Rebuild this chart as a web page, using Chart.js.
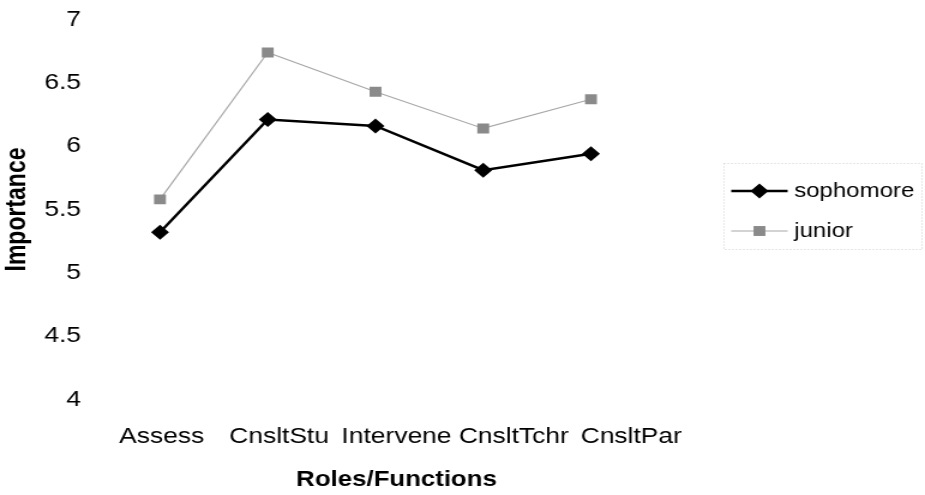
<!DOCTYPE html>
<html>
<head>
<meta charset="utf-8">
<script src="https://cdn.jsdelivr.net/npm/chart.js@4/dist/chart.umd.min.js"></script>
<style>
  html, body { margin: 0; padding: 0; background: #fff; overflow: hidden; }
  #wrap { position: absolute; left: 0; top: 0; width: 771px; height: 495px;
          transform: scaleX(1.19974); transform-origin: 0 0; }
</style>
</head>
<body>
<div id="wrap"><canvas id="c" width="771" height="495" style="width:771px;height:495px"></canvas></div>
<script>
const categories = ['Assess', 'CnsltStu', 'Intervene', 'CnsltTchr', 'CnsltPar'];
const sophomore = [5.32, 6.21, 6.16, 5.81, 5.94];
const junior = [5.58, 6.74, 6.43, 6.14, 6.37];
const yTicks = [4, 4.5, 5, 5.5, 6, 6.5, 7];
const seriesNames = ['sophomore', 'junior'];

const FONT = 'Liberation Sans, Arial, sans-serif';
const toPoints = (arr) => arr.map((v, i) => ({ x: i, y: v }));

const legendPlugin = {
  id: 'customLegend',
  afterDraw(chart) {
    const ctx = chart.ctx;
    ctx.save();
    ctx.strokeStyle = '#cfcfcf';
    ctx.lineWidth = 1;
    ctx.setLineDash([1, 2]);
    ctx.strokeRect(603.5, 163.5, 165, 86);
    ctx.setLineDash([]);
    const rows = [191, 231];
    chart.data.datasets.forEach((ds, i) => {
      const y = rows[i];
      ctx.strokeStyle = ds.borderColor;
      ctx.lineWidth = ds.borderWidth;
      ctx.beginPath();
      ctx.moveTo(609.5, y);
      ctx.lineTo(656.5, y);
      ctx.stroke();
      const cx = 633, r = ds.pointRadius;
      ctx.fillStyle = ds.pointBackgroundColor;
      ctx.beginPath();
      if (ds.pointStyle === 'rectRot') {
        ctx.moveTo(cx, y - r); ctx.lineTo(cx + r, y); ctx.lineTo(cx, y + r); ctx.lineTo(cx - r, y);
        ctx.closePath();
      } else {
        const s = Math.SQRT1_2 * r;
        ctx.rect(cx - s, y - s, 2 * s, 2 * s);
      }
      ctx.fill();
      ctx.fillStyle = '#000';
      ctx.font = '20px ' + FONT;
      ctx.textBaseline = 'middle';
      ctx.textAlign = 'left';
      ctx.fillText(ds.label, 662, y);
    });
    ctx.restore();
  }
};

new Chart(document.getElementById('c'), {
  type: 'line',
  data: {
    labels: categories,
    datasets: [
      {
        label: seriesNames[0], data: toPoints(sophomore),
        borderColor: '#000000', borderWidth: 2.5,
        pointStyle: 'rectRot', pointRadius: 7.5,
        pointBackgroundColor: '#000000', pointBorderColor: '#000000', pointBorderWidth: 0,
        tension: 0
      },
      {
        label: seriesNames[1], data: toPoints(junior),
        borderColor: '#a8a8a8', borderWidth: 1.2,
        pointStyle: 'rect', pointRadius: 7,
        pointBackgroundColor: '#8a8a8a', pointBorderColor: '#8a8a8a', pointBorderWidth: 0,
        tension: 0
      }
    ]
  },
  options: {
    responsive: false,
    devicePixelRatio: 1,
    animation: false,
    layout: { padding: { top: 19.5, right: 195.9, bottom: 0, left: 0 } },
    plugins: { legend: { display: false }, tooltip: { enabled: false } },
    scales: {
      x: {
        type: 'linear', min: -0.529, max: 4.9188,
        display: false
      },
      xLabels: {
        type: 'category', position: 'bottom', labels: categories,
        offset: true,
        grid: { display: false, drawTicks: false },
        border: { display: false },
        ticks: { color: '#000', font: { family: FONT, size: 22 }, padding: 24, maxRotation: 0, autoSkip: false },
        title: { display: true, text: 'Roles/Functions', color: '#000',
                 font: { family: FONT, size: 21.5, weight: 'bold' }, padding: { top: 0, bottom: 2.1 } },
        afterFit(scale) { scale.height = 95.5; scale.paddingLeft = 0; scale.paddingRight = 0; }
      },
      y: {
        min: 4, max: 7,
        grid: { display: false, drawTicks: false },
        border: { display: false },
        afterBuildTicks(scale) { scale.ticks = yTicks.map(v => ({ value: v })); },
        ticks: { color: '#000', font: { family: FONT, size: 22 }, padding: 18.3,
                 callback: (v) => String(v) },
        title: { display: true, text: 'Importance', color: '#000',
                 font: { family: FONT, size: 23, weight: 'bold' }, padding: { top: 1.2, bottom: 0 } },
        afterFit(scale) { scale.width = 85.85; scale.paddingTop = 0; scale.paddingBottom = 0; }
      }
    }
  },
  plugins: [legendPlugin]
});
</script>
</body>
</html>
